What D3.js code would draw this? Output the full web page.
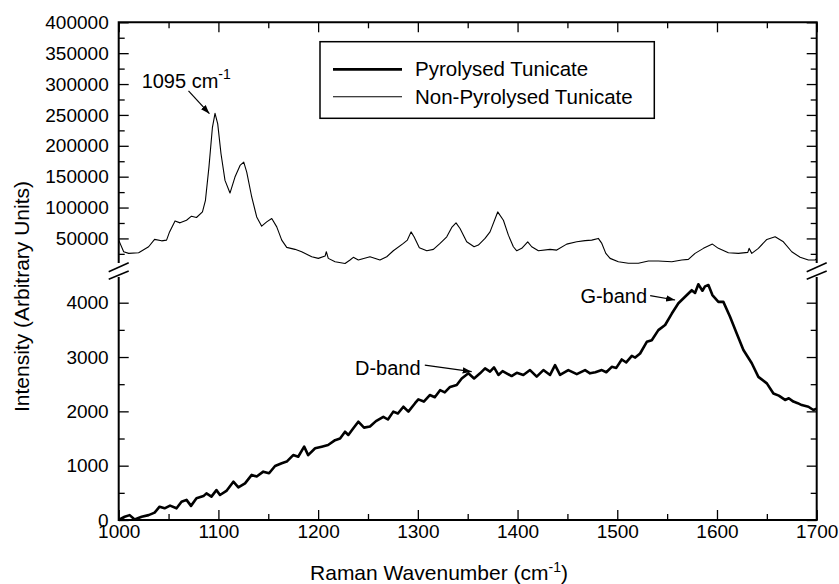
<!DOCTYPE html>
<html>
<head>
<meta charset="utf-8">
<script src="https://cdn.jsdelivr.net/npm/d3@7"></script>
<style>
  body { margin: 0; background: #fff; }
  svg text { font-family: "Liberation Sans", Arial, Helvetica, sans-serif; fill: #000; }
</style>
</head>
<body>
<script>
// Non-pyrolysed tunicate spectrum (upper panel)
var nonPyroWn = [1000, 1005, 1010, 1020, 1030, 1036, 1043, 1048, 1051, 1056.5, 1061.5, 1068, 1073, 1078, 1084, 1087, 1090.5, 1094, 1096.6, 1099.3, 1102.6, 1106.6, 1111.6, 1116.6, 1121.7, 1125.4, 1128.4, 1133.4, 1138.4, 1143.4, 1148.4, 1153.5, 1158.5, 1163.5, 1168.5, 1176.8, 1183.5, 1193.6, 1200.2, 1207, 1208.2, 1210.2, 1217, 1227, 1232, 1235.3, 1240.3, 1252, 1262, 1268.8, 1275.4, 1285.5, 1289.5, 1293.2, 1296.2, 1301.5, 1309, 1315.6, 1322.3, 1329, 1334, 1338.3, 1342.3, 1349, 1356.4, 1360.7, 1367.4, 1372.4, 1380.1, 1385.8, 1390.8, 1395.8, 1399.2, 1404.2, 1410.2, 1414.2, 1420.9, 1432.6, 1439.3, 1449.3, 1459.4, 1467.7, 1474.4, 1481, 1484.5, 1488.5, 1492.8, 1501.1, 1511.1, 1521.2, 1531.2, 1541.2, 1554.7, 1564.7, 1571.3, 1578, 1586.4, 1595.4, 1601.4, 1611.4, 1621.5, 1630.9, 1632.2, 1634.9, 1641.5, 1650, 1658.3, 1666.6, 1675, 1683.4, 1691.7, 1698.4, 1700];
var nonPyroVal = [47300, 28400, 25800, 26800, 36500, 48400, 46100, 47300, 60600, 78400, 75200, 79500, 86000, 83900, 92900, 111800, 165500, 230000, 252600, 235500, 187100, 144000, 123500, 149400, 168200, 173600, 157400, 117100, 84800, 69800, 76800, 82300, 68700, 47300, 35500, 32300, 28400, 20300, 17700, 21500, 28400, 17700, 12300, 9500, 15000, 19400, 15000, 20300, 15000, 20300, 30000, 41900, 47300, 60600, 52600, 34800, 30000, 32300, 41900, 52600, 67700, 75200, 66100, 44500, 36500, 39200, 50000, 60600, 92900, 79500, 55300, 36500, 30000, 33900, 44500, 36500, 30000, 32300, 31100, 40800, 44500, 46500, 47300, 50000, 41900, 25800, 17700, 12300, 9700, 9700, 13400, 13400, 12300, 15000, 16100, 25800, 33900, 40800, 33900, 26800, 25800, 27400, 33900, 25800, 33900, 48400, 52600, 44500, 28400, 19400, 15000, 15000, 17000];

// Pyrolysed tunicate spectrum (lower panel)
var pyroWn = [1000, 1006, 1011, 1016, 1023, 1030, 1036, 1041, 1046, 1051.5, 1058, 1063, 1068, 1072.5, 1078, 1085, 1088, 1093, 1098, 1101.6, 1108, 1115, 1120, 1126.7, 1133.4, 1138.4, 1145, 1150.8, 1156.8, 1163.5, 1168.5, 1175, 1180, 1186, 1190, 1197, 1203.6, 1210, 1217, 1222, 1227, 1230.3, 1235.3, 1240.3, 1246, 1252, 1258, 1265.4, 1270, 1275.4, 1280, 1285.5, 1290.5, 1297.2, 1300.5, 1306, 1312, 1317, 1322.3, 1327, 1332.3, 1339, 1344, 1350.7, 1356.4, 1362.4, 1367.4, 1372.4, 1376.4, 1380.8, 1385, 1389, 1394, 1399.2, 1405.8, 1412.5, 1419.2, 1425.9, 1432.6, 1437.6, 1442.6, 1450.9, 1459.4, 1467.7, 1472.7, 1478, 1484.5, 1489, 1494.5, 1499, 1504.5, 1509, 1514.6, 1518, 1522.9, 1529.6, 1534.6, 1541.2, 1548, 1554.7, 1561.3, 1568, 1574.7, 1578, 1581.3, 1585.4, 1588, 1591.4, 1595.4, 1601.4, 1606.4, 1613.1, 1619.8, 1626.5, 1634.9, 1641.5, 1650, 1656.6, 1662, 1668.3, 1672, 1676.6, 1681, 1685, 1691.7, 1696.7, 1700];
var pyroVal = [0, 60, 90, 10, 60, 90, 135, 245, 215, 265, 215, 335, 370, 260, 400, 440, 490, 430, 550, 460, 535, 705, 600, 675, 830, 800, 890, 860, 995, 1045, 1075, 1195, 1165, 1350, 1195, 1320, 1350, 1380, 1470, 1500, 1625, 1565, 1690, 1810, 1700, 1720, 1820, 1900, 1850, 1995, 1960, 2085, 1995, 2150, 2220, 2180, 2300, 2260, 2390, 2350, 2450, 2485, 2605, 2700, 2605, 2700, 2790, 2730, 2810, 2670, 2740, 2700, 2650, 2710, 2670, 2760, 2640, 2760, 2670, 2850, 2670, 2760, 2685, 2760, 2700, 2720, 2760, 2720, 2820, 2800, 2955, 2900, 3020, 2990, 3065, 3280, 3310, 3495, 3590, 3800, 3990, 4110, 4230, 4180, 4340, 4220, 4300, 4325, 4140, 4015, 4015, 3740, 3435, 3130, 2885, 2635, 2515, 2330, 2290, 2210, 2240, 2180, 2150, 2115, 2085, 2025, 2050];

// Axis ticks
var xMajor = [1000, 1100, 1200, 1300, 1400, 1500, 1600, 1700];
var xMinor = [1050, 1150, 1250, 1350, 1450, 1550, 1650];
var topMajor = [50000, 100000, 150000, 200000, 250000, 300000, 350000, 400000];
var topMinor = [25000, 75000, 125000, 175000, 225000, 275000, 325000, 375000];
var botMajor = [0, 1000, 2000, 3000, 4000];
var botMinor = [500, 1500, 2500, 3500];

// Legend and annotations
var legendLabels = ["Pyrolysed Tunicate", "Non-Pyrolysed Tunicate"];
var annotTop = {label: "1095 cm", sup: "-1", textAt: [1023, 294000], from: [1070, 289000], to: [1091, 252000]};
var annotBands = [
  {label: "D-band", textAt: [1237, 2660], from: [1307, 2850], to: [1354, 2730]},
  {label: "G-band", textAt: [1463, 4000], from: [1533, 4130], to: [1558, 4050]}
];

var W = 839, H = 584;
var plotL = 118.7, plotR = 816.7, plotT = 22.3, plotB = 520;
var breakTop = 263, breakBot = 277;

var svg = d3.select("body").append("svg")
  .attr("width", W)
  .attr("height", H);

var defs = svg.append("defs");
defs.append("marker")
  .attr("id", "arrow")
  .attr("viewBox", "0 0 10 10")
  .attr("refX", 10).attr("refY", 5)
  .attr("markerWidth", 9).attr("markerHeight", 9)
  .attr("markerUnits", "userSpaceOnUse")
  .attr("orient", "auto")
  .append("path")
  .attr("d", "M0,1.5 L10,5 L0,8.5 z")
  .attr("fill", "#000");

defs.append("clipPath").attr("id", "clipTop")
  .append("rect").attr("x", plotL).attr("y", plotT).attr("width", plotR - plotL).attr("height", breakTop + 2 - plotT);
defs.append("clipPath").attr("id", "clipBot")
  .append("rect").attr("x", plotL).attr("y", breakBot - 4).attr("width", plotR - plotL).attr("height", plotB + 3 - breakBot + 4);

// scales
var x = d3.scaleLinear().domain([1000, 1700]).range([plotL, plotR]);
var yTop = d3.scaleLinear().domain([0, 400000]).range([269.3, plotT]);
var yBot = d3.scaleLinear().domain([0, 4000]).range([plotB, 302.7]);

var nonPyro = nonPyroWn.map(function (d, i) { return {wn: d, v: nonPyroVal[i]}; });
var pyro = pyroWn.map(function (d, i) { return {wn: d, v: pyroVal[i]}; });

var lineTop = d3.line()
  .x(function (d) { return x(d.wn); })
  .y(function (d) { return yTop(d.v); });
var lineBot = d3.line()
  .x(function (d) { return x(d.wn); })
  .y(function (d) { return yBot(d.v); });

svg.append("path")
  .datum(nonPyro)
  .attr("clip-path", "url(#clipTop)")
  .attr("fill", "none")
  .attr("stroke", "#000")
  .attr("stroke-width", 1.1)
  .attr("stroke-linejoin", "round")
  .attr("d", lineTop);

svg.append("path")
  .datum(pyro)
  .attr("clip-path", "url(#clipBot)")
  .attr("fill", "none")
  .attr("stroke", "#000")
  .attr("stroke-width", 2.6)
  .attr("stroke-linejoin", "round")
  .attr("d", lineBot);

// axes helper: draws ticks only, frame is drawn separately
function tickGroup(axis, tx, ty, labels) {
  var g = svg.append("g")
    .attr("transform", "translate(" + tx + "," + ty + ")")
    .call(axis);
  g.select(".domain").remove();
  g.selectAll(".tick line").attr("stroke-width", 1.3);
  g.selectAll("text").style("font-size", "19px").attr("fill", "#000");
  if (!labels) g.selectAll("text").remove();
  return g;
}

// bottom x axis
tickGroup(d3.axisBottom(x).tickValues(xMajor).tickFormat(d3.format("d")).tickSizeInner(-10).tickSizeOuter(0).tickPadding(5), 0, plotB, true);
tickGroup(d3.axisBottom(x).tickValues(xMinor).tickSizeInner(-6).tickSizeOuter(0), 0, plotB, false);
// top x axis (ticks pointing in)
tickGroup(d3.axisBottom(x).tickValues(xMajor).tickSizeInner(10).tickSizeOuter(0), 0, plotT, false);
tickGroup(d3.axisBottom(x).tickValues(xMinor).tickSizeInner(6).tickSizeOuter(0), 0, plotT, false);

// left axis, upper segment
tickGroup(d3.axisLeft(yTop).tickValues(topMajor).tickFormat(d3.format("d")).tickSizeInner(-10).tickSizeOuter(0).tickPadding(10), plotL, 0, true);
tickGroup(d3.axisLeft(yTop).tickValues(topMinor).tickSizeInner(-6).tickSizeOuter(0), plotL, 0, false);
// left axis, lower segment
tickGroup(d3.axisLeft(yBot).tickValues(botMajor).tickFormat(d3.format("d")).tickSizeInner(-10).tickSizeOuter(0).tickPadding(10), plotL, 0, true);
tickGroup(d3.axisLeft(yBot).tickValues(botMinor).tickSizeInner(-6).tickSizeOuter(0), plotL, 0, false);
// right axis
tickGroup(d3.axisRight(yTop).tickValues(topMajor).tickSizeInner(-10).tickSizeOuter(0), plotR, 0, false);
tickGroup(d3.axisRight(yTop).tickValues(topMinor).tickSizeInner(-6).tickSizeOuter(0), plotR, 0, false);
tickGroup(d3.axisRight(yBot).tickValues(botMajor).tickSizeInner(-10).tickSizeOuter(0), plotR, 0, false);
tickGroup(d3.axisRight(yBot).tickValues(botMinor).tickSizeInner(-6).tickSizeOuter(0), plotR, 0, false);

// frame with broken vertical sides
var frame = svg.append("g").attr("stroke", "#000").attr("stroke-width", 2).attr("fill", "none");
frame.append("path").attr("d",
  "M" + plotL + "," + breakTop + "V" + plotT + "H" + plotR + "V" + breakTop +
  "M" + plotL + "," + breakBot + "V" + plotB + "H" + plotR + "V" + breakBot);

// break marks
var brk = svg.append("g").attr("stroke", "#000").attr("stroke-width", 1.5);
[plotL, plotR].forEach(function (bx) {
  brk.append("line").attr("x1", bx - 10).attr("y1", 271.7).attr("x2", bx + 10).attr("y2", 262.7);
  brk.append("line").attr("x1", bx - 10).attr("y1", 279.3).attr("x2", bx + 10).attr("y2", 271);
});

// axis titles
svg.append("text")
  .attr("transform", "translate(28.5," + 296.5 + ") rotate(-90)")
  .attr("text-anchor", "middle")
  .style("font-size", "21px")
  .text("Intensity (Arbitrary Units)");

var xt = svg.append("text")
  .attr("x", 439).attr("y", 580)
  .attr("text-anchor", "middle")
  .style("font-size", "21px");
xt.append("tspan").text("Raman Wavenumber (cm");
xt.append("tspan").attr("dy", -8).style("font-size", "14px").text("-1");
xt.append("tspan").attr("dy", 8).text(")");

// legend
var lg = svg.append("g");
lg.append("rect")
  .attr("x", 320).attr("y", 41.7).attr("width", 334.3).attr("height", 76.6)
  .attr("fill", "#fff").attr("stroke", "#000").attr("stroke-width", 1.5);
legendLabels.forEach(function (name, i) {
  var ly = i === 0 ? 69.3 : 96.7;
  lg.append("line")
    .attr("x1", 333).attr("x2", 402).attr("y1", ly).attr("y2", ly)
    .attr("stroke", "#000").attr("stroke-width", i === 0 ? 2.8 : 1.1);
  lg.append("text")
    .attr("x", 415).attr("y", ly + 7)
    .style("font-size", "20.5px")
    .text(name);
});

// annotations
var at = svg.append("text")
  .attr("x", x(annotTop.textAt[0])).attr("y", yTop(annotTop.textAt[1]))
  .style("font-size", "20px");
at.append("tspan").text(annotTop.label);
at.append("tspan").attr("dy", -9).style("font-size", "14px").text(annotTop.sup);
svg.append("line")
  .attr("x1", x(annotTop.from[0])).attr("y1", yTop(annotTop.from[1]))
  .attr("x2", x(annotTop.to[0])).attr("y2", yTop(annotTop.to[1]))
  .attr("stroke", "#000").attr("stroke-width", 1.2)
  .attr("marker-end", "url(#arrow)");

annotBands.forEach(function (a) {
  svg.append("text")
    .attr("x", x(a.textAt[0])).attr("y", yBot(a.textAt[1]))
    .style("font-size", "20px")
    .text(a.label);
  svg.append("line")
    .attr("x1", x(a.from[0])).attr("y1", yBot(a.from[1]))
    .attr("x2", x(a.to[0])).attr("y2", yBot(a.to[1]))
    .attr("stroke", "#000").attr("stroke-width", 1.2)
    .attr("marker-end", "url(#arrow)");
});
</script>
</body>
</html>
